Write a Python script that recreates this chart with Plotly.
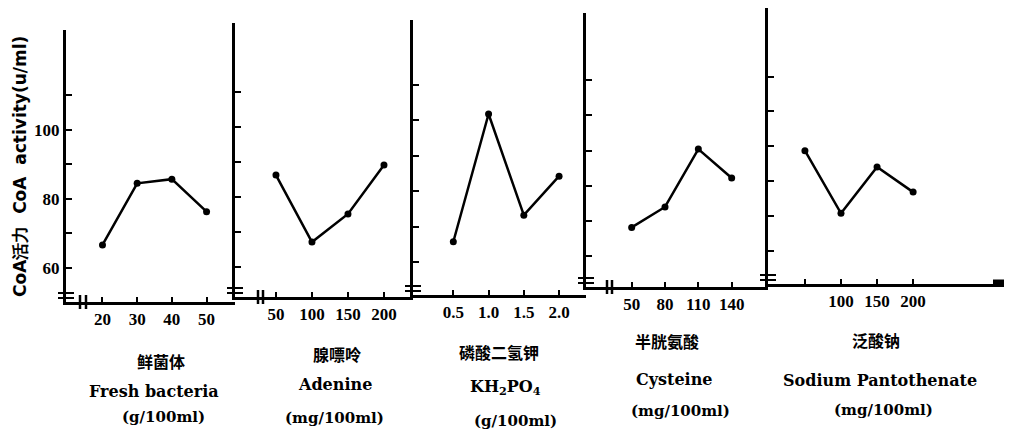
import plotly.graph_objects as go

# ---------------- data ----------------
fresh_x = [20, 30, 40, 50]
fresh_y = [66.7, 84.5, 85.7, 76.3]

adenine_x = [50, 100, 150, 200]
adenine_y = [86.2, 67.1, 75.1, 89.1]

kh2po4_x = [0.5, 1.0, 1.5, 2.0]
kh2po4_y = [65.8, 101.8, 73.3, 84.3]

cysteine_x = [50, 80, 110, 140]
cysteine_y = [68.2, 74.0, 90.4, 82.2]

pant_x = [50, 100, 150, 200]
pant_y = [88.7, 70.7, 84.0, 76.8]

fresh_ticks = [20, 30, 40, 50]
fresh_ticktext = ["20", "30", "40", "50"]
adenine_ticks = [50, 100, 150, 200]
adenine_ticktext = ["50", "100", "150", "200"]
kh2po4_ticks = [0.5, 1.0, 1.5, 2.0]
kh2po4_ticktext = ["0.5", "1.0", "1.5", "2.0"]
cysteine_ticks = [50, 80, 110, 140]
cysteine_ticktext = ["50", "80", "110", "140"]
pant_ticks = [100, 150, 200]
pant_ticktext = ["100", "150", "200"]
pant_minor_ticks = [50]

y_ticks = [60, 80, 100]
y_ticktext = ["60", "80", "100"]
y_minor_ticks = [70, 90, 110]

cn_names = ["鲜菌体", "腺嘌呤", "磷酸二氢钾", "半胱氨酸", "泛酸钠"]
en_names = ["Fresh bacteria", "Adenine", "KH<sub>2</sub>PO<sub>4</sub>", "Cysteine", "Sodium Pantothenate"]
units = ["(g/100ml)", "(mg/100ml)", "(g/100ml)", "(mg/100ml)", "(mg/100ml)"]

y_title = "CoA活力\u00a0\u00a0CoA\u00a0\u00a0activity(u/ml)"

# ---------------- layout geometry (page pixels) ----------------
PAGE_W, PAGE_H = 1013, 437
OFF = 8                      # default page margin before the figure
W, H = PAGE_W - OFF, PAGE_H - OFF

Y_X = [66, 235, 413, 586, 768]        # x of each y axis
X_END = [235, 413, 586, 768, 1004]    # right end of each x axis
BOT = [302, 297, 295, 287, 284]       # y of each x axis
TOP = [30, 23, 20, 13, 8]             # top of each y axis
XR = [[9.48, 58.2], [-6.9, 240.3], [-0.072, 2.382], [8.9, 172.7], [-1.2, 326]]
YR = [[50.2, 128.8], [51.4, 129.6], [50.8, 128.3], [51.3, 129.0], [50.4, 129.7]]

CN_POS = [(161, 361), (337, 354), (499, 352), (667, 341), (876, 340)]
EN_POS = [(154, 391), (335, 384), (505, 387), (674, 379), (880, 380)]
UN_POS = [(163, 417), (334, 418), (515, 421), (680, 411), (883, 410)]
XBREAK = [(80, 86), (258, 263), None, (607, 612), None]

series = [
    (fresh_x, fresh_y, fresh_ticks, fresh_ticktext, []),
    (adenine_x, adenine_y, adenine_ticks, adenine_ticktext, []),
    (kh2po4_x, kh2po4_y, kh2po4_ticks, kh2po4_ticktext, []),
    (cysteine_x, cysteine_y, cysteine_ticks, cysteine_ticktext, []),
    (pant_x, pant_y, pant_ticks, pant_ticktext, pant_minor_ticks),
]


def clamp(v):
    return max(0.0, min(1.0, v))


def px(x):
    return (x - OFF) / W


def py(y):
    return 1 - (y - OFF) / H


tick_font = dict(family="Liberation Serif", size=17, color="black", weight="bold")

fig = go.Figure()
layout = dict(
    width=W, height=H,
    margin=dict(l=0, r=0, t=0, b=0),
    paper_bgcolor="white", plot_bgcolor="white",
    showlegend=False,
)
shapes = []
annotations = []

for i, (xs, ys, tv, tt, mtv) in enumerate(series):
    n = "" if i == 0 else str(i + 1)
    fig.add_trace(go.Scatter(
        x=xs, y=ys, mode="lines+markers",
        line=dict(color="black", width=2.5),
        marker=dict(color="black", size=7),
        xaxis="x" + n, yaxis="y" + n,
        hoverinfo="x+y",
    ))
    xa = dict(
        domain=[clamp(px(Y_X[i])), clamp(px(X_END[i]))], range=XR[i], anchor="y" + n,
        showline=True, linecolor="black", linewidth=2.5,
        ticks="inside", ticklen=5, tickwidth=2, tickcolor="black",
        tickmode="array", tickvals=tv, ticktext=tt, tickfont=tick_font,
        showgrid=False, zeroline=False, fixedrange=True,
    )
    if mtv:
        xa["minor"] = dict(tickmode="array", tickvals=mtv, ticks="inside",
                           ticklen=5, tickwidth=2, tickcolor="black", showgrid=False)
    layout["xaxis" + n] = xa
    layout["yaxis" + n] = dict(
        domain=[clamp(py(BOT[i])), clamp(py(TOP[i]))], range=YR[i], anchor="x" + n,
        showline=True, linecolor="black", linewidth=3,
        ticks="inside", ticklen=6, tickwidth=2, tickcolor="black",
        tickmode="array", tickvals=y_ticks, ticktext=y_ticktext, tickfont=tick_font,
        minor=dict(tickmode="array", tickvals=y_minor_ticks, ticks="inside",
                   ticklen=6, tickwidth=2, tickcolor="black", showgrid=False),
        showticklabels=(i == 0),
        showgrid=False, zeroline=False, fixedrange=True,
    )
    # y-axis break marks "="
    for dy in (9, 4):
        shapes.append(dict(type="line", xref="paper", yref="paper",
                           x0=px(Y_X[i] - 8), x1=px(Y_X[i] + 8),
                           y0=py(BOT[i] - dy), y1=py(BOT[i] - dy),
                           line=dict(color="black", width=2)))
    # x-axis break marks "||"
    if XBREAK[i]:
        for bx in XBREAK[i]:
            shapes.append(dict(type="line", xref="paper", yref="paper",
                               x0=px(bx), x1=px(bx),
                               y0=py(BOT[i] - 7), y1=py(BOT[i] + 7),
                               line=dict(color="black", width=2.5)))
    # labels under each panel
    annotations.append(dict(text="<b>" + cn_names[i] + "</b>", xref="paper", yref="paper",
                            x=px(CN_POS[i][0]), y=py(CN_POS[i][1]), showarrow=False,
                            xanchor="center", yanchor="middle",
                            font=dict(family="Noto Sans CJK SC", size=16, color="black")))
    annotations.append(dict(text="<b>" + en_names[i] + "</b>", xref="paper", yref="paper",
                            x=px(EN_POS[i][0]), y=py(EN_POS[i][1]), showarrow=False,
                            xanchor="center", yanchor="middle",
                            font=dict(family="DejaVu Serif", size=16, color="black")))
    annotations.append(dict(text="<b>" + units[i] + "</b>", xref="paper", yref="paper",
                            x=px(UN_POS[i][0]), y=py(UN_POS[i][1]), showarrow=False,
                            xanchor="center", yanchor="middle",
                            font=dict(family="DejaVu Serif", size=15, color="black")))

# thick end of the last x axis
shapes.append(dict(type="line", xref="paper", yref="paper",
                   x0=px(993), x1=px(1004), y0=py(282), y1=py(282),
                   line=dict(color="black", width=5)))

# y title
annotations.append(dict(text="<b>" + y_title + "</b>", xref="paper", yref="paper",
                        x=px(20), y=py(167), showarrow=False, textangle=-90,
                        xanchor="center", yanchor="middle",
                        font=dict(family="DejaVu Sans", size=17, color="black")))

layout["shapes"] = shapes
layout["annotations"] = annotations
fig.update_layout(**layout)
fig.write_html("out.html")
